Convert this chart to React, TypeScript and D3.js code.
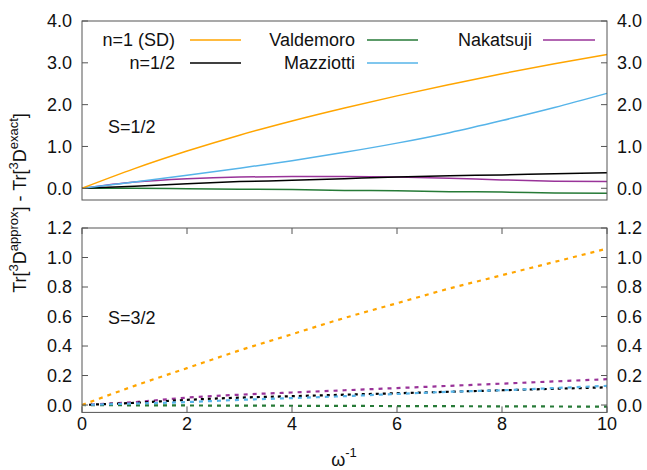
import * as d3 from 'd3';

// omega^-1 grid
const omegaInv = [0, 1, 2, 3, 4, 5, 6, 7, 8, 9, 10];

// S=1/2 (top panel, solid)
const sdHalf = [0, 0.47, 0.89, 1.27, 1.61, 1.92, 2.21, 2.48, 2.74, 2.98, 3.2];
const nHalfHalf = [0, 0.05, 0.11, 0.16, 0.19, 0.23, 0.27, 0.3, 0.32, 0.35, 0.37];
const valdemoroHalf = [0, 0, -0.01, -0.02, -0.03, -0.05, -0.06, -0.08, -0.09, -0.11, -0.12];
const mazziottiHalf = [0, 0.15, 0.31, 0.48, 0.66, 0.86, 1.08, 1.33, 1.62, 1.93, 2.27];
const nakatsujiHalf = [0, 0.15, 0.23, 0.27, 0.28, 0.28, 0.27, 0.24, 0.2, 0.17, 0.16];

// S=3/2 (bottom panel, dashed)
const sdThreeHalf = [0, 0.13, 0.25, 0.37, 0.48, 0.59, 0.69, 0.79, 0.88, 0.97, 1.06];
const nHalfThreeHalf = [0, 0.015, 0.035, 0.05, 0.06, 0.07, 0.08, 0.09, 0.1, 0.11, 0.12];
const valdemoroThreeHalf = [0, -0.002, -0.003, -0.004, -0.005, -0.006, -0.007, -0.008, -0.009, -0.01, -0.011];
const mazziottiThreeHalf = [0, 0.01, 0.02, 0.035, 0.047, 0.06, 0.075, 0.09, 0.1, 0.115, 0.13];
const nakatsujiThreeHalf = [0, 0.02, 0.05, 0.07, 0.085, 0.1, 0.115, 0.13, 0.145, 0.16, 0.175];

const methods = ['n=1 (SD)', 'n=1/2', 'Valdemoro', 'Mazziotti', 'Nakatsuji'];
const colors = ['#ffa500', '#000000', '#267a37', '#56b4e9', '#993399'];
const topSeries = [sdHalf, nHalfHalf, valdemoroHalf, mazziottiHalf, nakatsujiHalf];
const bottomSeries = [sdThreeHalf, nHalfThreeHalf, valdemoroThreeHalf, mazziottiThreeHalf, nakatsujiThreeHalf];

const xTicks = [0, 2, 4, 6, 8, 10];
const topYTicks = [0, 1, 2, 3, 4];
const bottomYTicks = [0, 0.2, 0.4, 0.6, 0.8, 1.0, 1.2];

const W = 647;
const H = 470;
const FONT = '"Liberation Sans", Arial, sans-serif';
const AXIS = '#555';

const x = d3.scaleLinear().domain([0, 10]).range([82, 607]);
const yTop = d3.scaleLinear().domain([-0.28, 4]).range([200, 21]);
const yBot = d3.scaleLinear().domain([-0.05, 1.2]).range([412.4, 228]);

const Panel = ({ y, series, yTicks, fmt, dashed, showX, label }) => {
  const [y0, y1] = y.range();
  const line = d3.line<number>()
    .x((_, i) => x(omegaInv[i]))
    .y(d => y(d))
    .curve(d3.curveMonotoneX);
  // draw order: SD last so it sits on top as in the picture
  const order = [2, 4, 1, 3, 0];
  return (
    <g>
      {order.map(k => (
        <path key={k} d={line(series[k]) || ''} fill="none" stroke={colors[k]}
          strokeWidth={dashed ? 2.2 : 1.5}
          strokeDasharray={dashed ? (k === 1 ? '3,4' : '4,5') : undefined} />
      ))}
      <rect x={x(0)} y={y1} width={x(10) - x(0)} height={y0 - y1} fill="none" stroke={AXIS} strokeWidth={1} />
      {yTicks.map(t => (
        <g key={t}>
          <line x1={x(0)} x2={x(0) + 6} y1={y(t)} y2={y(t)} stroke={AXIS} />
          <line x1={x(10)} x2={x(10) - 6} y1={y(t)} y2={y(t)} stroke={AXIS} />
          <text x={x(0) - 10} y={y(t)} dy="0.36em" textAnchor="end">{fmt(t)}</text>
          <text x={x(10) + 10} y={y(t)} dy="0.36em" textAnchor="start">{fmt(t)}</text>
        </g>
      ))}
      {showX && xTicks.map(t => (
        <g key={t}>
          <line x1={x(t)} x2={x(t)} y1={y0} y2={y0 - 6} stroke={AXIS} />
          <line x1={x(t)} x2={x(t)} y1={y1} y2={y1 + 6} stroke={AXIS} />
          <text x={x(t)} y={y0 + 18} textAnchor="middle">{t}</text>
        </g>
      ))}
      <text x={108} y={label.y} textAnchor="start">{label.text}</text>
    </g>
  );
};

// legend slots: [text right edge, line start, line end, row y]
const legendSlots = [
  [175, 190, 241, 40],
  [175, 190, 241, 63],
  [355, 367, 418, 40],
  [355, 367, 418, 63],
  [532, 543, 595, 40],
];

export default function App() {
  const f1 = d3.format('.1f');
  return (
    <svg width={W} height={H} style={{ position: 'absolute', left: 0, top: 0, background: '#fff' }}
      fontFamily={FONT} fontSize={18} fill="#111">
      <Panel y={yTop} series={topSeries} yTicks={topYTicks} fmt={f1} dashed={false} showX={false}
        label={{ text: 'S=1/2', y: 133 }} />
      <Panel y={yBot} series={bottomSeries} yTicks={bottomYTicks} fmt={f1} dashed={true} showX={true}
        label={{ text: 'S=3/2', y: 324 }} />
      {methods.map((m, i) => {
        const [tx, lx0, lx1, ly] = legendSlots[i];
        return (
          <g key={m}>
            <text x={tx} y={ly} dy="0.36em" textAnchor="end">{m}</text>
            <line x1={lx0} x2={lx1} y1={ly} y2={ly} stroke={colors[i]} strokeWidth={1.5} />
          </g>
        );
      })}
      <text x={344} y={466} textAnchor="middle">
        ω<tspan fontSize={13} dy={-9}>-1</tspan>
      </text>
      <text transform="translate(26,203) rotate(-90)" textAnchor="middle">
        Tr[<tspan fontSize={13} dy={-8}>3</tspan><tspan dy={8}>D</tspan>
        <tspan fontSize={13} dy={-8}>approx</tspan><tspan dy={8}>] - Tr[</tspan>
        <tspan fontSize={13} dy={-8}>3</tspan><tspan dy={8}>D</tspan>
        <tspan fontSize={13} dy={-8}>exact</tspan><tspan dy={8}>]</tspan>
      </text>
    </svg>
  );
}
